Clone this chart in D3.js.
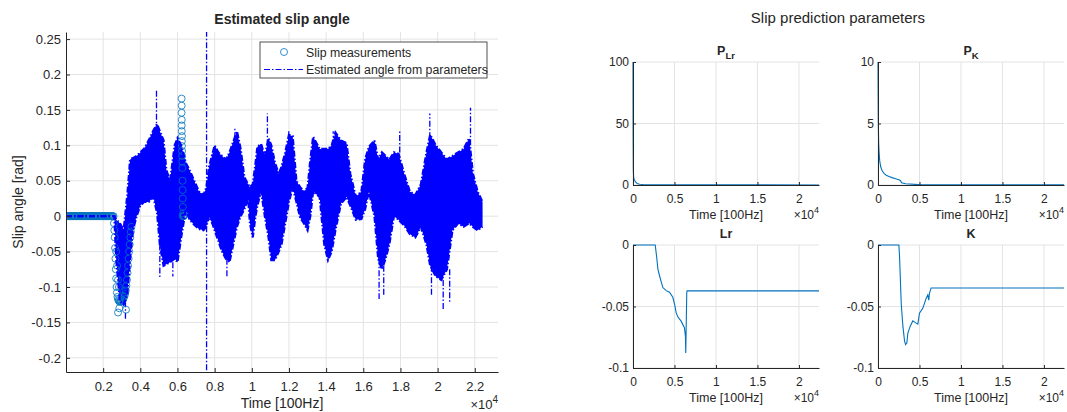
<!DOCTYPE html>
<html>
<head>
<meta charset="utf-8">
<script src="https://cdn.jsdelivr.net/npm/d3@7"></script>
<style>
  body { margin: 0; background: #fff; }
  svg text { font-family: "Liberation Sans", Arial, Helvetica, sans-serif; fill: #262626; }
</style>
</head>
<body>
<div id="chart"></div>
<script>
/* values */

// estimated angle: dense noisy trace, kept as upper / lower envelope
const bandTime = [0, 2600, 2700, 2900, 3100, 3300, 3450, 3600, 3800, 4000, 4200, 4450, 4700, 4900, 5050, 5250, 5400, 5600, 5850, 6000, 6200, 6450, 6650, 6900, 7150, 7400, 7550, 7700, 7900, 8000, 8200, 8400, 8600, 8800, 9000, 9200, 9400, 9600, 9800, 9900, 10050, 10200, 10300, 10500, 10700, 10900, 11050, 11250, 11450, 11600, 11800, 12000, 12200, 12400, 12600, 12800, 13000, 13150, 13300, 13650, 13900, 14100, 14300, 14500, 14800, 15100, 15300, 15600, 15900, 16100, 16300, 16600, 16800, 17000, 17200, 17400, 17650, 17900, 18200, 18500, 18800, 19100, 19400, 19600, 19900, 20200, 20500, 20800, 21100, 21400, 21700, 21900, 22150, 22420];
const bandHigh = [0, 0, -0.005, -0.01, -0.02, 0.03, 0.08, 0.082, 0.085, 0.09, 0.095, 0.107, 0.121, 0.13, 0.12, 0.107, 0.065, 0.05, 0.1, 0.11, 0.1, 0.075, 0.065, 0.05, 0.035, 0.03, 0.04, 0.07, 0.09, 0.1, 0.09, 0.085, 0.08, 0.09, 0.105, 0.12, 0.095, 0.055, 0.045, 0.041, 0.045, 0.075, 0.098, 0.102, 0.085, 0.11, 0.1, 0.075, 0.06, 0.07, 0.09, 0.115, 0.113, 0.05, 0.041, 0.035, 0.04, 0.08, 0.112, 0.095, 0.095, 0.095, 0.1, 0.118, 0.107, 0.103, 0.06, 0.027, 0.035, 0.08, 0.098, 0.107, 0.08, 0.09, 0.085, 0.08, 0.09, 0.088, 0.06, 0.035, 0.03, 0.045, 0.09, 0.115, 0.1, 0.09, 0.08, 0.085, 0.09, 0.095, 0.11, 0.06, 0.035, 0.02];
const bandLow = [0, 0, -0.06, -0.12, -0.125, -0.11, -0.06, -0.02, 0, 0.015, 0.02, 0.02, 0.027, 0.005, -0.04, -0.07, -0.068, -0.065, -0.06, -0.065, -0.03, 0.01, -0.005, -0.012, -0.018, -0.02, -0.015, 0, -0.012, -0.02, -0.035, -0.05, -0.06, -0.065, -0.04, -0.015, 0, 0.01, 0.025, -0.01, -0.03, 0, 0.015, 0.035, 0, -0.03, -0.062, -0.062, -0.05, -0.04, -0.01, 0.02, 0.041, 0.02, -0.002, -0.01, -0.02, 0, 0.035, 0.027, -0.04, -0.062, -0.05, -0.02, 0.018, 0.027, 0.015, -0.005, -0.004, 0.01, 0.035, 0, -0.06, -0.075, -0.06, -0.04, 0, -0.005, -0.013, -0.025, -0.03, -0.015, -0.04, -0.07, -0.085, -0.09, -0.075, -0.02, -0.01, -0.015, -0.01, -0.015, -0.02, -0.015];

// isolated spikes of the trace
const spikeTime = [3200, 4870, 5050, 5750, 7565, 8660, 9090, 10840, 11990, 14380, 16850, 17100, 17960, 19580, 19670, 20300, 20650, 21770];
const spikeFrom = [-0.12, 0.12, -0.04, -0.065, -0.25, -0.06, 0.11, 0.1, 0.1, 0.1, -0.06, -0.07, 0.09, 0.11, -0.07, -0.09, -0.075, 0.1];
const spikeTo = [-0.145, 0.18, -0.087, -0.085, 0.3, -0.085, 0.124, 0.145, 0.12, 0.12, -0.117, -0.112, 0.12, 0.145, -0.111, -0.132, -0.121, 0.153];

// slip measurements (circles)
const measTime = [0, 40, 80, 120, 160, 200, 240, 280, 320, 360, 400, 440, 480, 520, 560, 600, 640, 680, 720, 760, 800, 840, 880, 920, 960, 1000, 1040, 1080, 1120, 1160, 1200, 1240, 1280, 1320, 1360, 1400, 1440, 1480, 1520, 1560, 1600, 1640, 1680, 1720, 1760, 1800, 1840, 1880, 1920, 1960, 2000, 2040, 2080, 2120, 2160, 2200, 2240, 2280, 2320, 2360, 2400, 2440, 2480, 2520, 2560,
  2580, 2600, 2620, 2640, 2660, 2680, 2700, 2720, 2740, 2770, 2800, 2830, 2860, 2900, 2940, 2980, 3020, 3060, 3100, 3140, 3180, 3220, 3250, 3280, 3310, 3340, 3370, 3400, 3430, 3460, 3490, 3520,
  2800, 2870, 3230, 2700, 2750, 2800, 2850,
  6220, 6225, 6220, 6230, 6225, 6230, 6240, 6235, 6240, 6245, 6250, 6255, 6260, 6270, 6280, 6285, 6290, 6300, 6290, 6310, 6330, 6350];
const measValue = [0, 0, 0, 0, 0, 0, 0, 0, 0, 0, 0, 0, 0, 0, 0, 0, 0, 0, 0, 0, 0, 0, 0, 0, 0, 0, 0, 0, 0, 0, 0, 0, 0, 0, 0, 0, 0, 0, 0, 0, 0, 0, 0, 0, 0, 0, 0, 0, 0, 0, 0, 0, 0, 0, 0, 0, 0, 0, 0, 0, 0, 0, 0, 0, 0,
  -0.01, -0.02, -0.03, -0.045, -0.06, -0.075, -0.088, -0.1, -0.108, -0.114, -0.117, -0.119, -0.12, -0.121, -0.12, -0.12, -0.119, -0.118, -0.116, -0.113, -0.11, -0.105, -0.098, -0.09, -0.08, -0.07, -0.06, -0.05, -0.04, -0.03, -0.022, -0.015,
  -0.136, -0.13, -0.132, -0.05, -0.07, -0.09, -0.1,
  0.166, 0.156, 0.146, 0.136, 0.128, 0.12, 0.113, 0.106, 0.099, 0.092, 0.085, 0.077, 0.068, 0.05, 0.037, 0.025, 0.013, 0.004, 0, 0, 0, 0.001];

// prediction parameters
const pLrTime = [0, 15, 40, 80, 150, 300, 500, 800, 1200, 2000, 4000, 10000, 22420];
const pLrValue = [100, 40, 12, 6, 4.5, 2.5, 1.3, 0.6, 0.35, 0.2, 0.12, 0.08, 0.05];
const pKTime = [0, 20, 40, 80, 120, 200, 320, 500, 720, 1000, 1320, 1700, 2120, 2520, 2720, 2840, 3320, 4920, 22420];
const pKValue = [10, 7, 5, 3.5, 2.8, 2.0, 1.5, 1.15, 0.95, 0.8, 0.7, 0.6, 0.5, 0.42, 0.35, 0.18, 0.1, 0.03, 0.02];
const lrTime = [0, 2680, 2880, 3000, 3200, 3400, 3600, 4000, 4400, 4800, 5040, 5200, 5400, 5800, 6200, 6320, 6360, 6480, 6520, 22420];
const lrValue = [0, 0, -0.0114, -0.0196, -0.025, -0.03, -0.0346, -0.0371, -0.0384, -0.0425, -0.049, -0.055, -0.0583, -0.0619, -0.0673, -0.0741, -0.0877, -0.0387, -0.0373, -0.0373];
const kTime = [0, 2520, 2600, 2800, 3000, 3200, 3320, 3480, 3600, 3880, 4200, 4600, 4800, 5000, 5400, 5800, 6000, 6120, 6200, 6400, 22420];
const kValue = [0, 0, -0.0099, -0.0475, -0.066, -0.078, -0.081, -0.0796, -0.0716, -0.066, -0.0617, -0.0635, -0.0643, -0.0555, -0.0515, -0.0434, -0.0407, -0.0448, -0.0394, -0.0349, -0.0349];

// ticks
const leftXTicks = [2000, 4000, 6000, 8000, 10000, 12000, 14000, 16000, 18000, 20000, 22000];
const leftXTickLabels = ["0.2", "0.4", "0.6", "0.8", "1", "1.2", "1.4", "1.6", "1.8", "2", "2.2"];
const leftYTicks = [-0.2, -0.15, -0.1, -0.05, 0, 0.05, 0.1, 0.15, 0.2, 0.25];
const leftYTickLabels = ["-0.2", "-0.15", "-0.1", "-0.05", "0", "0.05", "0.1", "0.15", "0.2", "0.25"];
const rightXTicks = [0, 5000, 10000, 15000, 20000];
const rightXTickLabels = ["0", "0.5", "1", "1.5", "2"];
const pLrTicks = [0, 50, 100];
const pKTicks = [0, 5, 10];
const paramTicks = [-0.1, -0.05, 0];
const paramTickLabels = ["-0.1", "-0.05", "0"];

const gridColor = "#e3e3e3";
const axisColor = "#262626";
const dashDot = "6,2,1.5,2";

var svg = d3.select("#chart").append("svg")
  .attr("width", 1067)
  .attr("height", 412);

/* ---------- left chart ---------- */
var xL = d3.scaleLinear().domain([0, 23250]).range([66, 498]);
var yL = d3.scaleLinear().domain([-0.22, 0.26]).range([372, 32]);

svg.append("clipPath").attr("id", "clipL")
  .append("rect").attr("x", 66).attr("y", 32).attr("width", 432).attr("height", 340);

var gL = svg.append("g");

// grid
gL.selectAll(".vgrid").data(leftXTicks).enter().append("line")
  .attr("x1", d => xL(d)).attr("x2", d => xL(d))
  .attr("y1", 32).attr("y2", 372)
  .attr("stroke", gridColor);
gL.selectAll(".hgrid").data(leftYTicks).enter().append("line")
  .attr("x1", 66).attr("x2", 498)
  .attr("y1", d => yL(d)).attr("y2", d => yL(d))
  .attr("stroke", gridColor);

var plotL = gL.append("g").attr("clip-path", "url(#clipL)");

var band = bandTime.map((t, i) => ({ t: t, hi: bandHigh[i], lo: bandLow[i] }));

plotL.append("path")
  .datum(band)
  .attr("d", d3.area().x(d => xL(d.t)).y0(d => yL(d.lo)).y1(d => yL(d.hi)))
  .attr("fill", "#0000ff");

// spikes
spikeTime.forEach(function (t, i) {
  plotL.append("line")
    .attr("x1", xL(t)).attr("x2", xL(t))
    .attr("y1", yL(spikeFrom[i])).attr("y2", yL(spikeTo[i]))
    .attr("stroke", "#0000ff")
    .attr("stroke-width", 1.3)
    .attr("stroke-dasharray", dashDot);
});

// circles
plotL.selectAll(".meas").data(measTime).enter().append("circle")
  .attr("cx", d => xL(d))
  .attr("cy", (d, i) => yL(measValue[i]))
  .attr("r", 3.5)
  .attr("fill", "none")
  .attr("stroke", "#0072bd")
  .attr("stroke-width", 0.8);

// envelope edges drawn dash-dot on top (ragged fringe)
["hi", "lo"].forEach(function (k) {
  plotL.append("path")
    .datum(band)
    .attr("d", d3.line().x(d => xL(d.t)).y(d => yL(d[k])))
    .attr("fill", "none")
    .attr("stroke", "#0000ff")
    .attr("stroke-width", 2.2)
    .attr("stroke-dasharray", dashDot);
});

// axes
var xAxisL = d3.axisBottom(xL).tickValues(leftXTicks)
  .tickFormat((d, i) => leftXTickLabels[i])
  .tickSizeInner(-4).tickSizeOuter(0).tickPadding(10);
var yAxisL = d3.axisLeft(yL).tickValues(leftYTicks)
  .tickFormat((d, i) => leftYTickLabels[i])
  .tickSizeInner(-4).tickSizeOuter(0).tickPadding(5);

function styleAxis(g, size) {
  g.select(".domain").attr("stroke", axisColor);
  g.selectAll(".tick line").attr("stroke", axisColor);
  g.selectAll("text").style("font-size", size).attr("fill", axisColor);
}

gL.append("g").attr("transform", "translate(0,372)").call(xAxisL).call(styleAxis, "13px");
gL.append("g").attr("transform", "translate(66,0)").call(yAxisL).call(styleAxis, "13px");

// labels
svg.append("text")
  .attr("x", 282).attr("y", 24)
  .style("text-anchor", "middle")
  .style("font-weight", "700")
  .style("font-size", "14px")
  .text("Estimated slip angle");

svg.append("text")
  .attr("x", 282).attr("y", 408)
  .style("text-anchor", "middle")
  .style("font-size", "14px")
  .text("Time [100Hz]");

svg.append("text")
  .attr("transform", "translate(23,202) rotate(-90)")
  .style("text-anchor", "middle")
  .style("font-size", "14px")
  .text("Slip angle [rad]");

function expLabel(x, y, size) {
  var t = svg.append("text")
    .attr("x", x).attr("y", y)
    .style("text-anchor", "end")
    .style("font-size", size + "px");
  t.append("tspan").text("\u00d710");
  t.append("tspan").attr("dy", -6).style("font-size", (size - 3) + "px").text("4");
}
expLabel(498, 409, 13);

// legend
var leg = svg.append("g");
leg.append("rect")
  .attr("x", 260).attr("y", 42).attr("width", 227).attr("height", 36)
  .attr("fill", "#fff").attr("stroke", axisColor).attr("stroke-width", 0.8);
leg.append("circle")
  .attr("cx", 284).attr("cy", 52).attr("r", 3.5)
  .attr("fill", "none").attr("stroke", "#0072bd").attr("stroke-width", 0.8);
leg.append("line")
  .attr("x1", 264).attr("x2", 303).attr("y1", 69.5).attr("y2", 69.5)
  .attr("stroke", "#0000ff").attr("stroke-dasharray", dashDot);
leg.append("text").attr("x", 306).attr("y", 56.5)
  .style("font-size", "12.3px").text("Slip measurements");
leg.append("text").attr("x", 306).attr("y", 73.5)
  .style("font-size", "12.3px").text("Estimated angle from parameters");

/* ---------- right panels ---------- */
svg.append("text")
  .attr("x", 838).attr("y", 23)
  .style("text-anchor", "middle")
  .style("font-size", "15px")
  .text("Slip prediction parameters");

function panel(opts) {
  var x = d3.scaleLinear().domain([0, 22420]).range([opts.x0, opts.x0 + 186]);
  var y = d3.scaleLinear().domain(opts.yDomain).range([opts.y1, opts.y0]);
  var g = svg.append("g");

  g.selectAll(".vg").data(rightXTicks).enter().append("line")
    .attr("x1", d => x(d)).attr("x2", d => x(d))
    .attr("y1", opts.y0).attr("y2", opts.y1)
    .attr("stroke", gridColor);
  g.selectAll(".hg").data(opts.yTicks).enter().append("line")
    .attr("x1", opts.x0).attr("x2", opts.x0 + 186)
    .attr("y1", d => y(d)).attr("y2", d => y(d))
    .attr("stroke", gridColor);

  var data = opts.time.map((t, i) => ({ t: t, v: opts.value[i] }));
  g.append("path")
    .datum(data)
    .attr("d", d3.line().x(d => x(d.t)).y(d => y(d.v)))
    .attr("fill", "none")
    .attr("stroke", "#0072bd")
    .attr("stroke-width", 1.1);

  g.append("g").attr("transform", "translate(0," + opts.y1 + ")")
    .call(d3.axisBottom(x).tickValues(rightXTicks)
      .tickFormat((d, i) => rightXTickLabels[i])
      .tickSizeInner(-3).tickSizeOuter(0).tickPadding(9))
    .call(styleAxis, "12px");
  g.append("g").attr("transform", "translate(" + opts.x0 + ",0)")
    .call(d3.axisLeft(y).tickValues(opts.yTicks)
      .tickFormat((d, i) => opts.yLabels[i])
      .tickSizeInner(-3).tickSizeOuter(0).tickPadding(4))
    .call(styleAxis, "12px");

  var title = svg.append("text")
    .attr("x", opts.x0 + 93).attr("y", opts.y0 - 7)
    .style("text-anchor", "middle")
    .style("font-weight", "700")
    .style("font-size", "12.5px");
  title.append("tspan").text(opts.title);
  if (opts.sub) {
    title.append("tspan").attr("dy", 4).style("font-size", "9.5px").text(opts.sub);
  }

  svg.append("text")
    .attr("x", opts.x0 + 93).attr("y", opts.y1 + 34)
    .style("text-anchor", "middle")
    .style("font-size", "12.5px")
    .text("Time [100Hz]");
  expLabel(opts.x0 + 186, opts.y1 + 34, 12);
}

panel({ x0: 633, y0: 62, y1: 185, yDomain: [0, 100], yTicks: pLrTicks, yLabels: ["0", "50", "100"],
  time: pLrTime, value: pLrValue, title: "P", sub: "Lr" });
panel({ x0: 878, y0: 62, y1: 185, yDomain: [0, 10], yTicks: pKTicks, yLabels: ["0", "5", "10"],
  time: pKTime, value: pKValue, title: "P", sub: "K" });
panel({ x0: 633, y0: 245, y1: 368, yDomain: [-0.1, 0], yTicks: paramTicks, yLabels: paramTickLabels,
  time: lrTime, value: lrValue, title: "Lr" });
panel({ x0: 878, y0: 245, y1: 368, yDomain: [-0.1, 0], yTicks: paramTicks, yLabels: paramTickLabels,
  time: kTime, value: kValue, title: "K" });
</script>
</body>
</html>
